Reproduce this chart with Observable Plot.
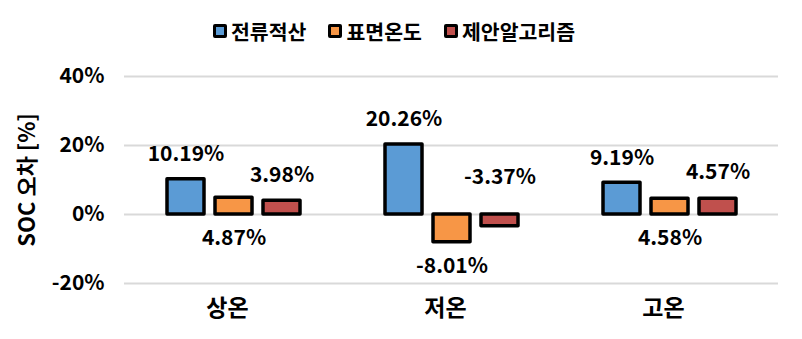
<!DOCTYPE html>
<html><head><meta charset="utf-8">
<script src="https://cdn.jsdelivr.net/npm/d3@7"></script>
<script src="https://cdn.jsdelivr.net/npm/@observablehq/plot@0.6"></script>
<style>
body{margin:0;background:#fff;font-family:"Noto Sans CJK KR",sans-serif;}
#wrap{width:802px;height:339px;position:relative;overflow:hidden;}
#legend{height:50px;box-sizing:border-box;padding-top:12px;padding-left:213px;display:flex;align-items:center;font-size:20.5px;font-weight:700;color:#000;}
.item{display:flex;align-items:center;margin-right:22px;}
.sw{width:8px;height:8px;border:3px solid #000;border-radius:2px;margin-right:4px;}
#ylab{position:absolute;left:25px;top:180px;transform:translate(-50%,-50%) rotate(-90deg);white-space:nowrap;font-size:22px;font-weight:700;color:#000;}
</style></head><body>
<div id="wrap"><div id="legend"></div><div id="chart"></div><div id="ylab"></div></div>
<script>
const categories = ["상온", "저온", "고온"];
const series = ["전류적산", "표면온도", "제안알고리즘"];
const colors = ["#5B9BD5", "#F79646", "#C0504D"];
const current = [10.19, 20.26, 9.19];
const surface = [4.87, -8.01, 4.58];
const proposed = [3.98, -3.37, 4.57];
const yTicks = [-20, 0, 20, 40];
const yLabel = "SOC 오차 [%]";

const valuesBySeries = [current, surface, proposed];
const data = [];
categories.forEach((c, i) => {
  series.forEach((s, j) => data.push({cat: c, ser: s, value: valuesBySeries[j][i]}));
});
const fmt = v => v.toFixed(2) + "%";

const legend = document.getElementById("legend");
series.forEach((s, j) => {
  const it = document.createElement("div");
  it.className = "item";
  const sw = document.createElement("div");
  sw.className = "sw";
  sw.style.background = colors[j];
  const t = document.createElement("span");
  t.textContent = s;
  it.append(sw, t);
  legend.append(it);
});
document.getElementById("ylab").textContent = yLabel;

const font = {fontSize: 21, fontWeight: "bold", fill: "#000"};
const chart = Plot.plot({
  width: 802,
  height: 289,
  marginLeft: 123,
  marginRight: 24,
  marginTop: 26,
  marginBottom: 56,
  style: {fontFamily: "Noto Sans CJK KR, sans-serif", background: "#fff", overflow: "visible"},
  fx: {domain: categories, padding: 0, label: null},
  x: {domain: series, paddingInner: 0.237, paddingOuter: 0.87, axis: null},
  y: {domain: [-20, 40], label: null},
  color: {domain: series, range: colors},
  marks: [
    Plot.gridY(yTicks, {stroke: "#d9d9d9", strokeOpacity: 1, strokeWidth: 2}),
    Plot.barY(data, {fx: "cat", x: "ser", y: "value", fill: "ser", stroke: "#000", strokeWidth: 3.5, strokeLinejoin: "round"}),
    Plot.text(data.filter(d => d.ser === series[0]), {fx: "cat", x: "ser", y: "value", text: d => fmt(d.value), dy: -25, ...font}),
    Plot.text(data.filter(d => d.ser === series[1]), {fx: "cat", x: "ser", y: d => Math.min(0, d.value), text: d => fmt(d.value), dy: 24, ...font}),
    Plot.text(data.filter(d => d.ser === series[2]), {fx: "cat", x: "ser", y: d => Math.abs(d.value), text: d => fmt(d.value), dy: -26, ...font}),
    Plot.axisY(yTicks, {tickSize: 0, tickPadding: 20, tickFormat: d => d + "%", label: null, ...font}),
    Plot.axisFx({anchor: "bottom", tickSize: 0, tickPadding: 16, label: null, fontSize: 23, fontWeight: "bold", fill: "#000", dx: -6})
  ]
});
document.getElementById("chart").append(chart);
</script>
</body></html>
